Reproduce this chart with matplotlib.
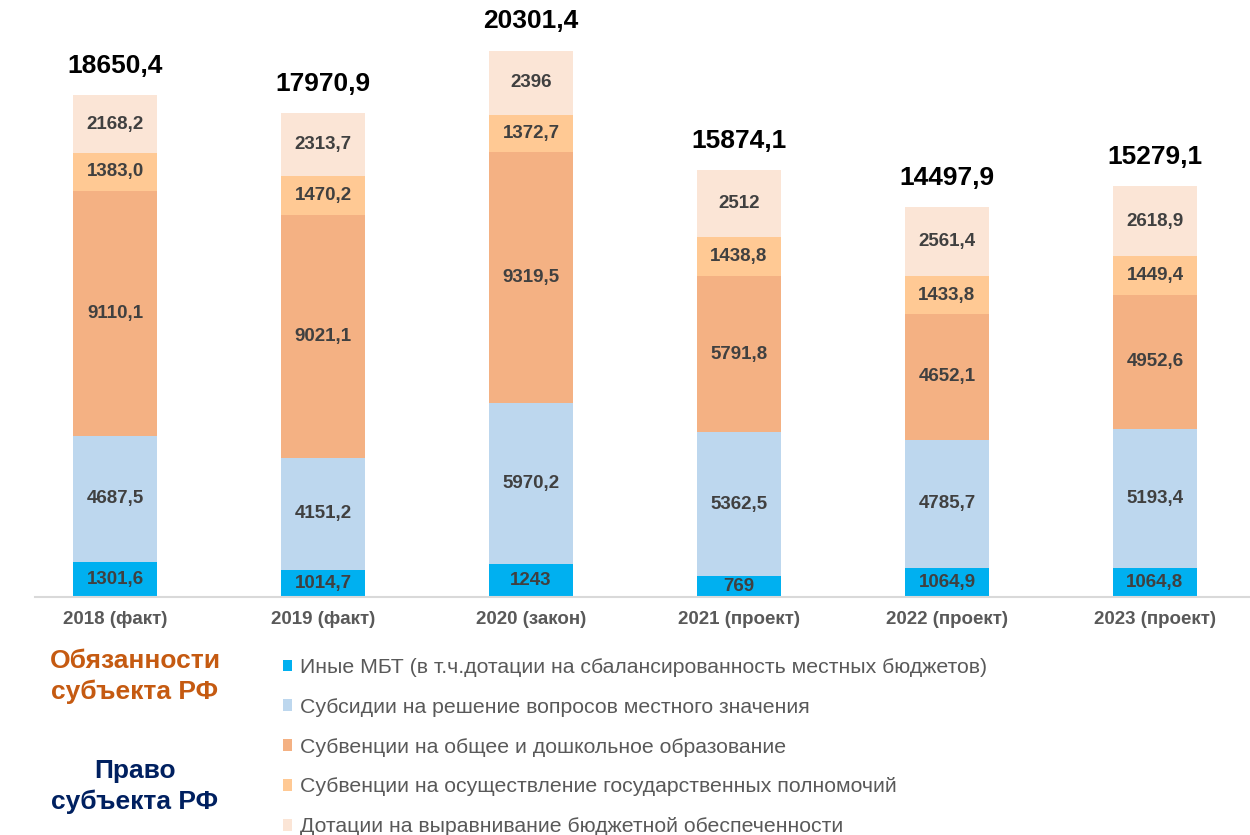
import matplotlib.pyplot as plt
from matplotlib.patches import Patch

plt.rcParams['font.family'] = ['Liberation Sans', 'DejaVu Sans']

# Data (млн руб.)
years = ["2018 (факт)", "2019 (факт)", "2020 (закон)",
         "2021 (проект)", "2022 (проект)", "2023 (проект)"]
inye_mbt = ["1301,6", "1014,7", "1243", "769", "1064,9", "1064,8"]
subsidii = ["4687,5", "4151,2", "5970,2", "5362,5", "4785,7", "5193,4"]
subv_obr = ["9110,1", "9021,1", "9319,5", "5791,8", "4652,1", "4952,6"]
subv_poln = ["1383,0", "1470,2", "1372,7", "1438,8", "1433,8", "1449,4"]
dotacii = ["2168,2", "2313,7", "2396", "2512", "2561,4", "2618,9"]
totals = ["18650,4", "17970,9", "20301,4", "15874,1", "14497,9", "15279,1"]

series_names = [
    "Иные МБТ (в т.ч.дотации на сбалансированность местных бюджетов)",
    "Субсидии на решение вопросов местного значения",
    "Субвенции на общее и дошкольное образование",
    "Субвенции на осуществление государственных полномочий",
    "Дотации на выравнивание бюджетной обеспеченности",
]
series = [inye_mbt, subsidii, subv_obr, subv_poln, dotacii]
colors = ["#00B0F0", "#BDD7EE", "#F4B183", "#FFC994", "#FBE5D6"]


def num(s):
    return float(s.replace(",", "."))


fig = plt.figure(figsize=(12.5, 8.35), dpi=100)
ax = fig.add_axes([0.028, 0.285, 0.972, 0.715])

x = list(range(len(years)))
bottoms = [0.0] * len(years)
for labels, color in zip(series, colors):
    vals = [num(s) for s in labels]
    ax.bar(x, vals, bottom=bottoms, width=0.405, color=color, linewidth=0)
    for i, (v, s) in enumerate(zip(vals, labels)):
        ax.text(x[i], bottoms[i] + v / 2, s, ha="center", va="center",
                fontsize=13.5, fontweight="bold", color="#404040")
    bottoms = [b + v for b, v in zip(bottoms, vals)]

for i, s in enumerate(totals):
    ax.annotate(s, (x[i], num(s)), xytext=(0, 21), textcoords="offset points",
                ha="center", va="center", fontsize=19, fontweight="bold",
                color="black")

ax.set_xlim(-0.385, 5.457)
ax.set_ylim(0, 22180)
ax.set_yticks([])
ax.set_xticks(x)
ax.set_xticklabels(years, fontsize=13.5, fontweight="bold", color="#595959")
ax.tick_params(axis="x", length=0, pad=10)
for side in ["top", "right", "left"]:
    ax.spines[side].set_visible(False)
ax.spines["bottom"].set_color("#D9D9D9")
ax.spines["bottom"].set_linewidth(1.5)

handles = [Patch(facecolor=c, edgecolor="none") for c in colors]
fig.legend(handles, series_names, loc="upper left",
           bbox_to_anchor=(0.226, 0.212), frameon=False, fontsize=15.3,
           labelcolor="#595959", handlelength=0.47, handleheight=0.47,
           handletextpad=0.33, labelspacing=0.98, borderpad=0, borderaxespad=0)

fig.text(0.108, 0.190, "Обязанности\nсубъекта РФ", ha="center", va="center",
         fontsize=19, fontweight="bold", color="#C55A11", linespacing=1.3)
fig.text(0.108, 0.058, "Право\nсубъекта РФ", ha="center", va="center",
         fontsize=19, fontweight="bold", color="#002060", linespacing=1.3)

fig.savefig("out.png", dpi=100)
